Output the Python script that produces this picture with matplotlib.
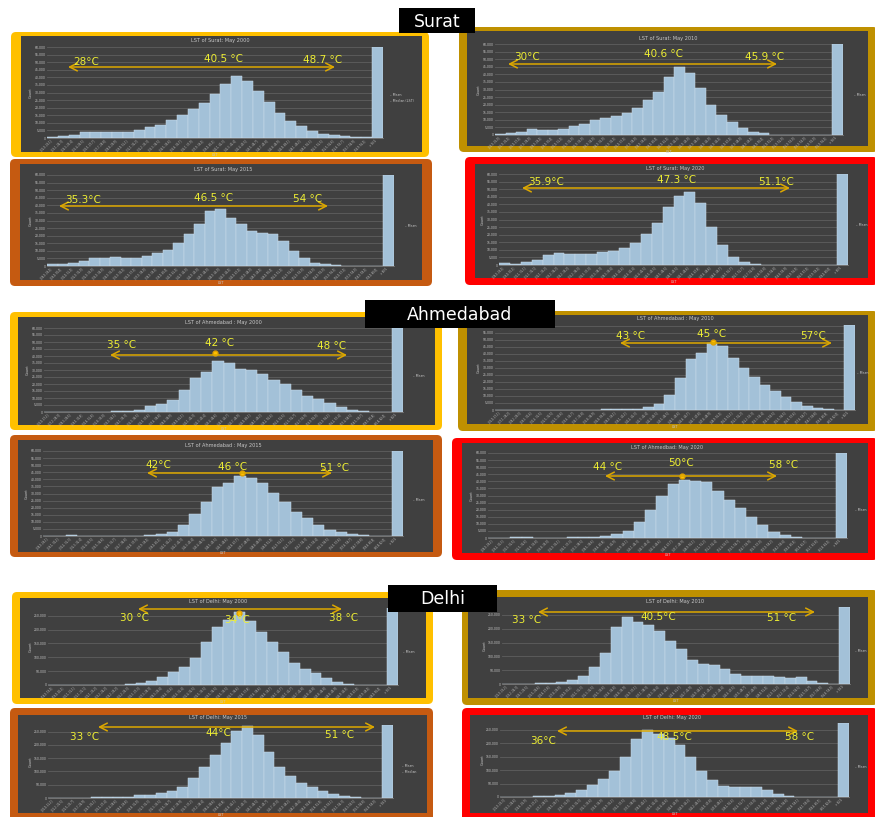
import numpy as np
import matplotlib
matplotlib.use("Agg")
import matplotlib.pyplot as plt
from matplotlib.patches import FancyBboxPatch, Rectangle

W, H = 875, 817

# ---------------- data: pixel counts (thousands) per LST bin; last = overflow bar
surat_2000 = [0.4, 1.5, 2.2, 3.7, 4.1, 3.9, 3.7, 4.1, 5.2, 7.0, 8.7, 11.7, 15.2, 18.9, 22.8,
              28.7, 35.9, 40.9, 37.4, 31.1, 23.9, 16.7, 11.5, 7.6, 4.8, 2.8, 1.7, 1.1, 0.7, 0.4, 60]
surat_2010 = [0.5, 1.0, 1.75, 3.75, 3.5, 3.0, 4.0, 6.0, 7.5, 10.0, 11.0, 12.5, 14.5, 18.0, 23.0,
              28.5, 38.0, 45.0, 41.0, 31.0, 20.0, 13.5, 8.5, 4.5, 1.75, 1.0, 0.25, 0.25, 0.15,
              0.1, 0.1, 0.1, 60]
surat_2015 = [1.0, 1.25, 1.75, 3.25, 5.0, 5.0, 5.75, 5.0, 5.5, 6.5, 8.5, 10.5, 15.0, 21.0, 28.0,
              36.0, 37.5, 31.5, 27.5, 23.0, 22.0, 21.0, 16.5, 10.0, 5.0, 2.25, 1.0, 0.5, 0.25,
              0.25, 0.25, 0.25, 60]
surat_2020 = [1.5, 0.5, 1.75, 3.5, 6.5, 7.75, 7.25, 7.0, 7.25, 8.25, 9.25, 11.0, 14.75, 20.25,
              28.0, 38.0, 45.75, 48.0, 40.75, 25.25, 13.5, 5.5, 1.75, 0.75, 0.25, 0.25, 0.25,
              0.25, 0.25, 0.25, 0.25, 60]
ahmedabad_2000 = [0, 0, 0, 0.1, 0.15, 0.25, 0.5, 0.75, 1.5, 4.25, 6.0, 8.25, 15.5, 24.25, 28.5,
                  36.5, 35.25, 31.0, 29.75, 27.0, 23.0, 19.75, 16.0, 11.75, 9.5, 6.75, 3.5, 1.75,
                  0.75, 0.25, 0.25, 60]
ahmedabad_2010 = [0, 0, 0.1, 0.1, 0.15, 0.15, 0.25, 0.25, 0.25, 0.35, 0.5, 0.6, 0.75, 1.0, 2.0,
                  4.25, 10.75, 23.0, 36.25, 40.5, 47.5, 45.25, 37.0, 29.75, 23.75, 17.75, 13.5,
                  9.5, 6.0, 2.5, 1.25, 0.5, 0, 60.5]
ahmedabad_2015 = [0.1, 0.25, 0.6, 0.25, 0.25, 0.25, 0.25, 0.25, 0.25, 0.4, 1.25, 3.0, 7.5, 15.5,
                  23.75, 34.75, 37.75, 42.25, 41.0, 37.5, 30.5, 23.75, 16.75, 12.5, 7.5, 4.5,
                  2.5, 1.25, 0.5, 0.25, 0.1, 60]
ahmedabad_2020 = [0.15, 0.25, 0.6, 0.4, 0.25, 0.25, 0.25, 0.4, 0.5, 0.6, 1.5, 2.75, 5.25, 11.0,
                  19.75, 29.5, 38.0, 41.25, 40.25, 39.25, 33.0, 26.75, 21.5, 15.0, 9.25, 4.5,
                  2.0, 0.75, 0.25, 0.1, 0, 60]
delhi_2000 = [0, 0, 0, 0, 0.5, 1, 1.5, 3.5, 7.5, 15, 30, 47.5, 65, 97.5, 155, 210, 235, 262.5,
              230, 192.5, 155, 120, 80, 57.5, 42.5, 25, 10, 2.5, 1, 0, 0, 278]
delhi_2010 = [0.5, 1, 1.5, 2.5, 5, 7.5, 15, 30, 60, 112.5, 205, 242.5, 225, 215, 190, 155, 125,
              87.5, 72.5, 67.5, 55, 37.5, 30, 30, 27.5, 25, 22.5, 25, 12.5, 2.5, 1, 278.5]
delhi_2015 = [0.5, 0.5, 1, 1.5, 2, 2.5, 3.5, 5, 10, 12.5, 17.5, 25, 42.5, 75, 115, 162.5, 207.5,
              252.5, 272.5, 237.5, 175, 115, 82.5, 57.5, 42.5, 25, 15, 8.5, 3.5, 1.5, 0.5, 275]
delhi_2020 = [0.5, 1, 1.5, 2.5, 5, 8.5, 15, 27.5, 45, 67.5, 95, 150, 215, 250, 235, 217.5, 195,
              150, 95, 62.5, 42.5, 37.5, 37.5, 37.5, 27.5, 12.5, 2.5, 1, 0.5, 0, 0, 275]

titles = ["LST of Surat: May 2000", "LST of Surat: May 2010",
          "LST of Surat: May 2015", "LST of Surat: May 2020",
          "LST of Ahmedabad : May 2000", "LST of Ahmedabad : May 2010",
          "LST of Ahmedabad : May 2015", "LST of Ahmedbad: May 2020",
          "LST of Delhi: May 2000", "LST of Delhi: May 2010",
          "LST of Delhi: May 2015", "LST of Delhi: May 2020"]
series = [surat_2000, surat_2010, surat_2015, surat_2020,
          ahmedabad_2000, ahmedabad_2010, ahmedabad_2015, ahmedabad_2020,
          delhi_2000, delhi_2010, delhi_2015, delhi_2020]
temp_ranges = [(22, 56), (24, 56), (28, 60), (28, 60), (26, 62), (26, 62), (28, 62), (28, 64),
               (18, 50), (22, 58), (20, 58), (22, 62)]
legends = [["Mean", "Median (LST)"], ["Mean"], ["Mean"], ["Mean"],
           ["Mean"], ["Mean"], ["Mean"], ["Mean"],
           ["Mean"], ["Mean"], ["Mean", "Median"], ["Mean"]]
annot_texts = [("28°C", "40.5 °C", "48.7 °C"), ("30°C", "40.6 °C", "45.9 °C"),
               ("35.3°C", "46.5 °C", "54 °C"), ("35.9°C", "47.3 °C", "51.1°C"),
               ("35 °C", "42 °C", "48 °C"), ("43 °C", "45 °C", "57°C"),
               ("42°C", "46 °C", "51 °C"), ("44 °C", "50°C", "58 °C"),
               ("30 °C", "34°C", "38 °C"), ("33 °C", "40.5°C", "51 °C"),
               ("33 °C", "44°C", "51 °C"), ("36°C", "48.5°C", "58 °C")]
cities = ["Surat", "Ahmedabad", "Delhi"]

# ---------------- layout (pixels)
border_cols = ["#FFC000", "#BF9000", "#C55A11", "#FF0000"]
layout = [
    dict(b=(11, 32, 429, 157), i=(21, 36, 422, 152), a=(47, 47, 383, 138), t=(220, 40), l=(390, 95), s=5,
         ar=(68, 335, 67), lp=[(86, 62), (223, 59), (323, 60)], m=None),
    dict(b=(459, 27, 878, 152), i=(467, 31, 868, 146), a=(495, 44, 843, 135), t=(668, 38), l=(854, 95), s=5,
         ar=(508, 777, 64), lp=[(527, 57), (663, 54), (765, 57)], m=None),
    dict(b=(10, 159, 432, 286), i=(20, 164, 422, 280), a=(47, 175, 394, 266), t=(223, 169), l=(405, 226), s=5,
         ar=(59, 328, 206), lp=[(83, 200), (214, 198), (308, 199)], m=None),
    dict(b=(465, 157, 878, 285), i=(475, 164, 868, 278), a=(499, 174, 848, 265), t=(675, 168), l=(856, 225), s=5,
         ar=(522, 790, 188), lp=[(546, 182), (677, 180), (776, 182)], m=None),
    dict(b=(10, 312, 442, 430), i=(18, 317, 435, 425), a=(44, 328, 403, 412), t=(223, 322), l=(413, 376), s=5,
         ar=(110, 347, 355), lp=[(122, 345), (220, 343), (332, 346)], m=(215, 353)),
    dict(b=(458, 311, 878, 431), i=(467, 315, 868, 424), a=(495, 325, 855, 410), t=(675, 318), l=(857, 373), s=5,
         ar=(620, 832, 343), lp=[(631, 336), (712, 334), (813, 336)], m=(713, 342)),
    dict(b=(10, 435, 442, 557), i=(18, 440, 433, 552), a=(43, 451, 403, 536), t=(223, 445), l=(413, 500), s=5,
         ar=(147, 332, 473), lp=[(158, 465), (233, 467), (335, 468)], m=(242, 473)),
    dict(b=(452, 438, 878, 560), i=(462, 443, 868, 553), a=(488, 453, 847, 538), t=(667, 447), l=(855, 510), s=5,
         ar=(605, 777, 476), lp=[(608, 467), (681, 463), (784, 465)], m=(682, 476)),
    dict(b=(12, 592, 433, 704), i=(20, 598, 426, 698), a=(48, 608, 398, 685), t=(218, 602), l=(403, 652), s=50,
         ar=(138, 342, 609), lp=[(134, 618), (237, 620), (344, 618)], m=(239, 613)),
    dict(b=(462, 590, 878, 705), i=(468, 597, 868, 698), a=(502, 607, 850, 684), t=(675, 601), l=(855, 651), s=50,
         ar=(538, 815, 612), lp=[(527, 620), (658, 617), (782, 618)], m=None),
    dict(b=(10, 708, 433, 822), i=(18, 715, 427, 813), a=(48, 725, 393, 798), t=(218, 718), l=(402, 766), s=50,
         ar=(98, 375, 727), lp=[(85, 737), (218, 733), (340, 735)], m=None),
    dict(b=(462, 708, 878, 822), i=(470, 715, 868, 813), a=(500, 723, 849, 797), t=(672, 717), l=(855, 767), s=50,
         ar=(557, 798, 731), lp=[(543, 741), (674, 737), (800, 737)], m=None),
]
city_boxes = [(399, 8, 475, 33), (365, 300, 555, 328), (388, 585, 497, 612)]

BG = "#404040"
BAR = "#A3C1D8"
TXT = "#C8C8C8"
ARROW = "#DDA800"
LAB = "#EEEE33"

fig = plt.figure(figsize=(W / 100, H / 100), dpi=100)
fig.patch.set_facecolor("white")
bg = fig.add_axes([0, 0, 1, 1])
bg.set_xlim(0, W)
bg.set_ylim(H, 0)
bg.axis("off")


def rect(x0, y0, x1, y1):
    return [x0 / W, 1 - y1 / H, (x1 - x0) / W, (y1 - y0) / H]


for k, (vals, lay) in enumerate(zip(series, layout)):
    bx0, by0, bx1, by1 = lay["b"]
    bg.add_patch(FancyBboxPatch((bx0, by0), bx1 - bx0, by1 - by0,
                                boxstyle="round,pad=0,rounding_size=5",
                                fc=border_cols[k % 4], ec="none"))
    ix0, iy0, ix1, iy1 = lay["i"]
    bg.add_patch(Rectangle((ix0, iy0), ix1 - ix0, iy1 - iy0, fc=BG, ec="none"))
    bg.text(lay["t"][0], lay["t"][1], titles[k], fontsize=3.6, color=TXT,
            ha="center", va="center")
    for j, name in enumerate(legends[k]):
        bg.text(lay["l"][0], lay["l"][1] + j * 6, "\u2013 " + name, fontsize=2.3,
                color=TXT, ha="left", va="center")

    ax = fig.add_axes(rect(*lay["a"]))
    ax.set_facecolor("none")
    x = np.arange(len(vals))
    ax.bar(x, vals, width=1.0, color=BAR, edgecolor="#CCDDEA", linewidth=0.35, zorder=2)
    top = max(vals)
    ax.set_xlim(-0.5, len(vals) - 0.5)
    ax.set_ylim(0, top)
    step = lay["s"]
    yt = np.arange(0, top + 1e-9, step)
    ax.set_yticks(yt)
    ax.set_yticklabels([f"{int(v * 1000):,}" for v in yt], fontsize=2.2, color=TXT)
    ax.grid(axis="y", color="white", alpha=0.16, lw=0.6, zorder=3)
    lo, hi = temp_ranges[k]
    n = len(vals)
    edges = np.linspace(lo, hi, n)
    xl = [f"[{edges[j]:.1f}, {edges[j + 1]:.1f}]" for j in range(n - 2)] + [f"({edges[-2]:.1f}, {edges[-1]:.1f}]", f"> {edges[-1]:.1f}"]
    ax.set_xticks(x)
    ax.set_xticklabels(xl, fontsize=1.8, color=TXT, rotation=45, ha="right")
    ax.tick_params(length=0, pad=1)
    for sp in ["top", "right", "left"]:
        ax.spines[sp].set_visible(False)
    ax.spines["bottom"].set_color("#8A8A8A")
    ax.spines["bottom"].set_linewidth(0.5)
    ax.set_ylabel("Count", fontsize=2.6, color=TXT, labelpad=1)
    ax.set_xlabel("LST", fontsize=2.6, color=TXT, labelpad=0.5)

ov = fig.add_axes([0, 0, 1, 1])
ov.set_facecolor("none")
ov.set_xlim(0, W)
ov.set_ylim(H, 0)
ov.axis("off")

for k, lay in enumerate(layout):
    x0, x1, y = lay["ar"]
    ov.annotate("", xy=(x1, y), xytext=(x0, y),
                arrowprops=dict(arrowstyle="<->,head_length=0.55,head_width=0.28",
                                color=ARROW, lw=1.1, shrinkA=0, shrinkB=0))
    for txt, (lx, ly) in zip(annot_texts[k], lay["lp"]):
        ov.text(lx, ly, txt, fontsize=7.5, color=LAB, ha="center", va="center")
    if lay["m"] is not None:
        ov.plot(lay["m"][0], lay["m"][1], marker="o", ms=3.5, color="#FFC000",
                mec="#E0A000")

for name, (x0, y0, x1, y1) in zip(cities, city_boxes):
    ov.add_patch(Rectangle((x0, y0), x1 - x0, y1 - y0, fc="black", ec="none"))
    ov.text((x0 + x1) / 2, (y0 + y1) / 2 + 1, name, fontsize=12.5, color="white",
            ha="center", va="center")

fig.savefig("out.png", dpi=100, facecolor="white")
